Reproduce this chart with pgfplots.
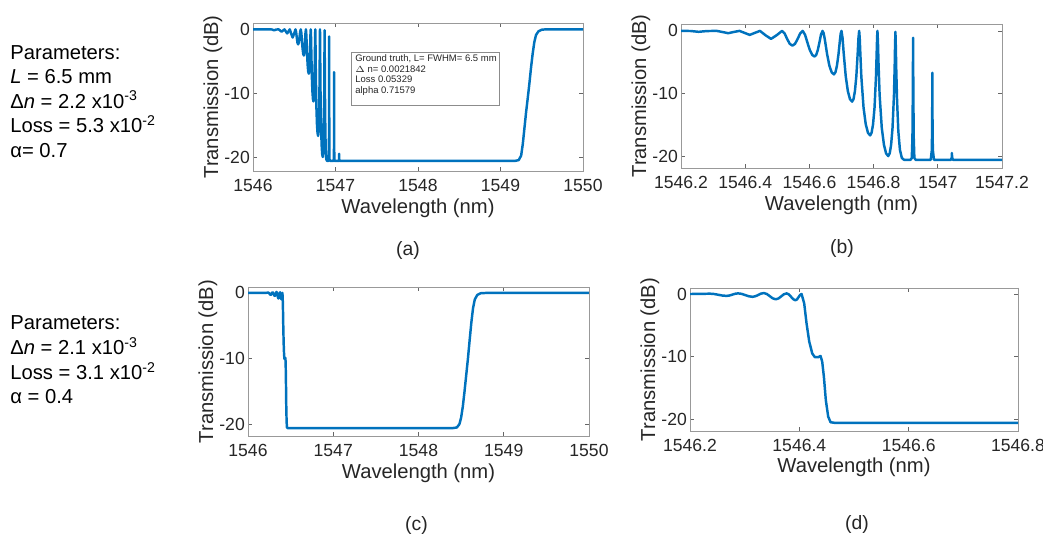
\documentclass[border=0pt]{standalone}
\usepackage{pgfplots}
\pgfplotsset{compat=1.18}
\usepackage{pgfplotstable}
\usepackage{fontspec}
\setmainfont{Liberation Sans}
\definecolor{mblue}{RGB}{0,114,189}
\definecolor{tickgray}{RGB}{38,38,38}

% x = wavelength - 1546 nm (offset keeps the fine structure precise)
\pgfplotstableread{
dl y
0.000 0
0.200 0
0.230 -0.02
0.255 -0.15
0.280 -0.03
0.311 0
0.329 -0.18
0.347 -0.37
0.364 -0.18
0.382 0
0.398 -0.32
0.414 -0.64
0.430 -0.32
0.446 0
0.463 -0.69
0.4805 -1.28
0.498 -0.69
0.515 0
0.523 -0.43
0.531 -1.33
0.539 -2.08
0.547 -2.35
0.555 -2.08
0.563 -1.33
0.571 -0.43
0.579 0
0.5864 -0.61
0.5939 -1.88
0.6013 -3.07
0.6088 -3.84
0.6162 -4.10
0.6212 -3.84
0.6261 -3.07
0.6311 -1.88
0.6360 -0.61
0.641 0
0.6445 -0.40
0.6481 -1.39
0.6552 -3.74
0.6622 -5.55
0.6693 -6.61
0.6764 -6.95
0.6811 -6.61
0.6858 -5.55
0.6906 -3.74
0.6953 -1.39
0.6976 -0.40
0.700 0
0.7033 -1.16
0.7066 -3.41
0.7132 -7.26
0.7198 -9.63
0.7264 -10.90
0.7330 -11.30
0.7374 -10.90
0.7418 -9.63
0.7462 -7.26
0.7506 -3.41
0.7528 -1.16
0.755 0
0.7567 -1.08
0.7584 -3.26
0.7618 -7.30
0.7687 -12.26
0.7755 -14.91
0.7824 -16.27
0.7892 -16.70
0.7938 -16.27
0.7983 -14.91
0.8029 -12.26
0.8074 -7.30
0.8097 -3.26
0.8109 -1.08
0.812 0
0.8137 -2.07
0.8154 -5.34
0.8187 -10.19
0.8254 -15.47
0.8322 -18.18
0.8389 -19.57
0.8456 -20.00
0.8501 -19.57
0.8546 -18.18
0.8590 -15.47
0.8635 -10.19
0.8658 -5.34
0.8669 -2.07
0.868 -0.15
0.8692 -2.5
0.8705 -6.0
0.8730 -11.0
0.8770 -16.0
0.8820 -19.0
0.8880 -20.3
0.8950 -20.6
0.915 -20.6
0.919 -20.3
0.921 -17.0
0.9222 -10.0
0.923 -1.1
0.9238 -10.0
0.925 -17.0
0.927 -20.3
0.931 -20.6
0.978 -20.6
0.9815 -19.0
0.9825 -14.0
0.983 -6.7
0.9835 -14.0
0.9845 -19.0
0.988 -20.6
1.041 -20.6
1.0435 -20.2
1.044 -19.5
1.0445 -20.2
1.047 -20.6
3.180 -20.6
3.220 -20.5
3.250 -19.8
3.270 -18.0
3.290 -15.5
3.310 -13.0
3.330 -10.8
3.350 -8.5
3.370 -6.0
3.390 -3.8
3.410 -2.0
3.430 -0.9
3.460 -0.3
3.500 -0.05
3.550 0
4.000 0
}\tabAB

\pgfplotstableread{
dl y
0.000 0
0.200 0
0.2125 0.01
0.225 0.03
0.2365 0.05
0.2441 -0.001
0.2518 -0.125
0.2594 -0.249
0.267 -0.30
0.2723 -0.242
0.2775 -0.10
0.2828 0.042
0.288 0.10
0.2946 0.020
0.3013 -0.175
0.3079 -0.370
0.3145 -0.45
0.3196 -0.362
0.3248 -0.15
0.3299 0.062
0.335 0.15
0.3405 0.004
0.346 -0.35
0.3515 -0.704
0.357 -0.85
0.3619 -0.711
0.3669 -0.375
0.3718 -0.039
0.3767 0.10
0.3808 -0.061
0.3849 -0.45
0.3889 -0.839
0.393 -1.00
0.3958 -0.854
0.3986 -0.5
0.4013 -0.146
0.4041 0
0.4089 -1.5
0.4132 -4.7
0.4181 -7.6
0.4236 -9.5
0.4284 -10.1
0.4345 -10.1
0.4388 -9.9
0.4418 -10.8
0.4449 -13.2
0.4485 -17.0
0.4528 -19.6
0.4571 -20.5
0.4650 -20.6
2.400 -20.6
2.450 -20.5
2.480 -20.0
2.500 -19.0
2.520 -17.3
2.540 -15.0
2.560 -12.5
2.580 -10.0
2.600 -7.2
2.620 -4.5
2.640 -2.3
2.660 -1.0
2.690 -0.3
2.730 -0.05
2.800 0
4.000 0
}\tabCD

\pgfplotsset{
  panel/.style={
    scale only axis,
    anchor=south west,
    axis line style={draw=black!40},
    tick style={draw=black!60, line width=0.4pt},
    major tick length=0.08cm,
    tick align=inside,
    ticklabel style={font=\fontsize{10}{12}\selectfont, text=tickgray},
    xticklabel style={yshift=-0.04cm},
    yticklabel style={xshift=0.06cm},
    label style={font=\fontsize{11.5}{13}\selectfont, text=tickgray},
    xlabel={Wavelength (nm)},
    ylabel={Transmission (dB)},
    ytick={-20,-10,0},
    yticklabels={-20,-10,0},
    xlabel style={yshift=0.10cm},
    ylabel style={yshift=-0.20cm},
  },
  trace/.style={mblue, line width=1.4pt, line join=round},
}

\begin{document}
\begin{tikzpicture}
\useasboundingbox (0,0) rectangle (20.86cm,-10.78cm);

% (a)
\begin{axis}[panel, at={(5.06cm,-3.42cm)}, width=6.60cm, height=2.96cm,
  xmin=0, xmax=4, ymin=-22.2, ymax=1.0,
  xtick={0,1,2,3,4}, xticklabels={1546,1547,1548,1549,1550}]
\addplot[trace] table[x=dl, y=y] {\tabAB};
\end{axis}

% (b)
\begin{axis}[panel, at={(13.62cm,-3.36cm)}, width=6.42cm, height=2.88cm,
  xmin=0.2, xmax=1.2, ymin=-21.9, ymax=1.1,
  xtick={0.2,0.4,0.6,0.8,1.0,1.2},
  xticklabels={1546.2,1546.4,1546.6,1546.8,1547,1547.2}]
\addplot[trace] table[x=dl, y=y] {\tabAB};
\end{axis}

% (c)
\begin{axis}[panel, at={(4.96cm,-8.72cm)}, width=6.82cm, height=2.98cm,
  xmin=0, xmax=4, ymin=-21.8, ymax=0.9,
  xtick={0,1,2,3,4}, xticklabels={1546,1547,1548,1549,1550}]
\addplot[trace] table[x=dl, y=y] {\tabCD};
\end{axis}

% (d)
\begin{axis}[panel, at={(13.80cm,-8.62cm)}, width=6.56cm, height=2.86cm,
  xmin=0.2, xmax=0.8, ymin=-21.9, ymax=0.96,
  xtick={0.2,0.4,0.6,0.8},
  xticklabels={1546.2,1546.4,1546.6,1546.8},
  xlabel style={yshift=0.02cm}]
\addplot[trace] table[x=dl, y=y] {\tabCD};
\end{axis}

% annotation box in (a)
\draw[black!45, fill=white, line width=0.4pt] (7.02cm,-1.04cm) rectangle (9.98cm,-2.10cm);
\begin{scope}[every node/.style={anchor=base west, inner sep=0pt, font=\fontsize{5.4}{6}\selectfont, text=tickgray}]
\node at (7.10cm,-1.24cm) {Ground truth, L= FWHM= 6.5 mm};
\node at (7.10cm,-1.45cm) {$\Delta$ n= 0.0021842};
\node at (7.10cm,-1.66cm) {Loss 0.05329};
\node at (7.10cm,-1.87cm) {alpha 0.71579};
\end{scope}

% parameter blocks
\begin{scope}[every node/.style={anchor=base west, inner sep=0pt, font=\fontsize{11.5}{13}\selectfont}]
\node at (0.20cm,-1.20cm) {Parameters:};
\node at (0.20cm,-1.68cm) {\textit{L} = 6.5 mm};
\node at (0.20cm,-2.17cm) {Δ\textit{n} = 2.2 x10\textsuperscript{-3}};
\node at (0.20cm,-2.66cm) {Loss = 5.3 x10\textsuperscript{-2}};
\node at (0.20cm,-3.15cm) {α= 0.7};
\node at (0.20cm,-6.60cm) {Parameters:};
\node at (0.20cm,-7.10cm) {Δ\textit{n} = 2.1 x10\textsuperscript{-3}};
\node at (0.20cm,-7.60cm) {Loss = 3.1 x10\textsuperscript{-2}};
\node at (0.20cm,-8.08cm) {α = 0.4};
\end{scope}

% panel letters
\begin{scope}[every node/.style={anchor=base, inner sep=0pt, font=\fontsize{11}{13}\selectfont, text=tickgray}]
\node at (8.16cm,-5.12cm) {(a)};
\node at (16.84cm,-5.08cm) {(b)};
\node at (8.33cm,-10.62cm) {(c)};
\node at (17.14cm,-10.60cm) {(d)};
\end{scope}
\end{tikzpicture}
\end{document}
